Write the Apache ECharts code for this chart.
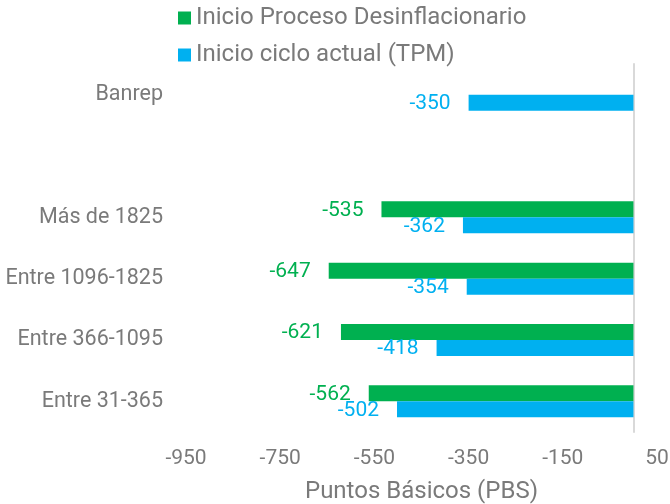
<!DOCTYPE html>
<html><head><meta charset="utf-8">
<script src="https://cdn.jsdelivr.net/npm/echarts@6/dist/echarts.min.js"></script>
<style>html,body{margin:0;padding:0;background:#fff}#c{width:670px;height:504px}</style>
</head><body><div id="c"></div>
<script>
const categories = ['Entre 31-365', 'Entre 366-1095', 'Entre 1096-1825', 'Más de 1825', '', 'Banrep'];
const seriesNames = ['Inicio Proceso Desinflacionario', 'Inicio ciclo actual (TPM)'];
const desinflacionario = [-562, -621, -647, -535, null, null];
const cicloActual = [-502, -418, -354, -362, null, -350];
const tickLabels = [-950, -750, -550, -350, -150, 50];

const GREEN = '#00B050', BLUE = '#00B0F0', GRAY = '#7a7a7a';
const FONT = 'Roboto';
const chart = echarts.init(document.getElementById('c'), null, {renderer: 'canvas'});
const lbl = (color) => ({show: true, position: 'left', distance: 18, offset: [0, 1], color: color, fontFamily: FONT, fontSize: 21});
chart.setOption({
  animation: false,
  textStyle: {fontFamily: FONT},
  legend: {
    orient: 'vertical', left: 173, top: 1, itemWidth: 13, itemHeight: 13, itemGap: 13,
    icon: 'rect',
    textStyle: {color: GRAY, fontSize: 24, fontFamily: FONT},
    data: seriesNames
  },
  grid: {left: 186, right: 13, top: 64, bottom: 72, containLabel: false, outerBoundsMode: 'none'},
  xAxis: {
    type: 'value', min: -950, max: 50, interval: 50,
    axisLine: {show: false}, axisTick: {show: false}, splitLine: {show: false},
    axisLabel: {
      color: GRAY, fontSize: 21, fontFamily: FONT, margin: 16,
      formatter: v => tickLabels.indexOf(v) >= 0 ? String(v) : ''
    },
    name: 'Puntos Básicos (PBS)', nameLocation: 'middle', nameGap: 48,
    nameTextStyle: {color: GRAY, fontSize: 24, fontFamily: FONT}
  },
  yAxis: {
    type: 'category', data: categories,
    axisLine: {show: true, onZero: true, lineStyle: {color: '#d9d9d9', width: 2}},
    axisTick: {show: false},
    axisLabel: {color: GRAY, fontSize: 21.5, fontFamily: FONT, margin: 23}
  },
  series: [
    {name: seriesNames[0], type: 'bar', data: desinflacionario, barWidth: 16, barGap: '0%',
     itemStyle: {color: GREEN}, label: lbl(GREEN)},
    {name: seriesNames[1], type: 'bar', data: cicloActual, barWidth: 16, barGap: '0%',
     itemStyle: {color: BLUE}, label: lbl(BLUE)}
  ]
});
</script></body></html>
